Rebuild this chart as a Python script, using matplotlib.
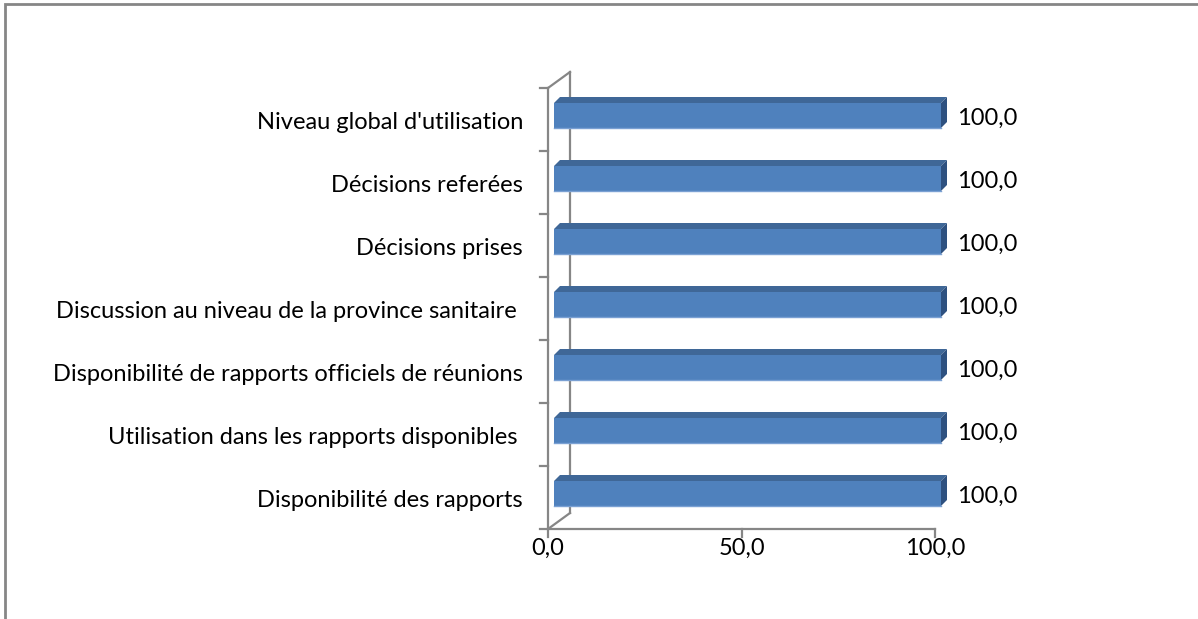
import matplotlib.pyplot as plt
from matplotlib.patches import Polygon, Rectangle

# Data (bottom to top)
categories = [
    "Disponibilité des rapports",
    "Utilisation dans les rapports disponibles ",
    "Disponibilité de rapports officiels de réunions",
    "Discussion au niveau de la province sanitaire ",
    "Décisions prises",
    "Décisions referées",
    "Niveau global d'utilisation",
]
values = [100.0, 100.0, 100.0, 100.0, 100.0, 100.0, 100.0]
x_ticks = [0, 50, 100]

plt.rcParams["font.family"] = ["Lato", "DejaVu Sans"]
FS = 17

W, H = 1198, 619
fig = plt.figure(figsize=(W / 100, H / 100), dpi=100)

# outer chart frame (only top/left visible)
fig.patches.append(Rectangle((5 / W, -0.1), 1.2, 1 - 4 / H + 0.1, transform=fig.transFigure,
                             fill=False, edgecolor="#868686", linewidth=2))

# plot area in pixels: x 548..935 for 0..100, y 529..88 for the 7 category rows
ax = fig.add_axes([548 / W, 1 - 529 / H, (935 - 548) / W, (529 - 88) / H])
ax.set_xlim(0, 100)
ax.set_ylim(-0.5, len(categories) - 0.5)
for s in ax.spines.values():
    s.set_visible(False)
ax.set_xticks([])
ax.set_yticks([])

gray = "#868686"
px_x = 100 / 387.0          # data units per pixel in x
px_y = 7 / 441.0            # data units per pixel in y

# 3D side wall (left) and floor front edge
wall_dx, wall_dy = 22 * px_x, 16 * px_y
y0, y1 = -0.5, len(categories) - 0.5
ax.plot([0, 0], [y0, y1], color=gray, lw=1.6, clip_on=False, zorder=1)
ax.plot([0, wall_dx], [y1, y1 + wall_dy], color=gray, lw=1.6, clip_on=False, zorder=1)
ax.plot([wall_dx, wall_dx], [y0 + wall_dy, y1 + wall_dy], color=gray, lw=1.6, clip_on=False, zorder=1)
ax.plot([0, wall_dx], [y0, y0 + wall_dy], color=gray, lw=1.6, clip_on=False, zorder=1)
ax.plot([0, 100], [y0, y0], color=gray, lw=1.6, clip_on=False, zorder=1)

# ticks
for i in range(len(categories) + 1):
    yb = i - 0.5
    ax.plot([-8 * px_x, 0], [yb, yb], color=gray, lw=1.6, clip_on=False, zorder=1)
for t in x_ticks:
    ax.plot([t, t], [y0, y0 - 8 * px_y], color=gray, lw=1.6, clip_on=False, zorder=1)
    ax.text(t, y0 - 19 * px_y, f"{t:.1f}".replace(".", ","), ha="center", va="center",
            fontsize=FS, color="black")

# bars
off_x, off_y = 6 * px_x, 4 * px_y
bar_h = 25 * px_y
dep_x, dep_y = 6 * px_x, 6 * px_y
text_dy = -3 * px_y
front_c, top_c, side_c = "#4F81BD", "#3F6797", "#2E5180"
for i, (cat, v) in enumerate(zip(categories, values)):
    yc = i + off_y
    x0 = off_x
    x1 = v + off_x
    bot = yc - bar_h / 2
    top = yc + bar_h / 2
    ax.add_patch(Rectangle((x0, bot), x1 - x0, bar_h, facecolor=front_c, edgecolor="none",
                           clip_on=False, zorder=3))
    ax.plot([x0, x1], [bot + 0.5 * px_y, bot + 0.5 * px_y], color="#7AA0D3", lw=1, clip_on=False, zorder=4)
    ax.add_patch(Polygon([(x0, top), (x1, top), (x1 + dep_x, top + dep_y), (x0 + dep_x, top + dep_y)],
                         closed=True, facecolor=top_c, edgecolor="none", clip_on=False, zorder=3))
    ax.add_patch(Polygon([(x1, bot), (x1 + dep_x, bot + dep_y), (x1 + dep_x, top + dep_y), (x1, top)],
                         closed=True, facecolor=side_c, edgecolor="none", clip_on=False, zorder=3))
    ax.text(x1 + dep_x + 10 * px_x, yc + text_dy, f"{v:.1f}".replace(".", ","), ha="left", va="center",
            fontsize=FS, color="black")
    ax.text(-25 * px_x, i + text_dy, cat, ha="right", va="center", fontsize=FS, color="black")

fig.savefig("out.png", dpi=100)
